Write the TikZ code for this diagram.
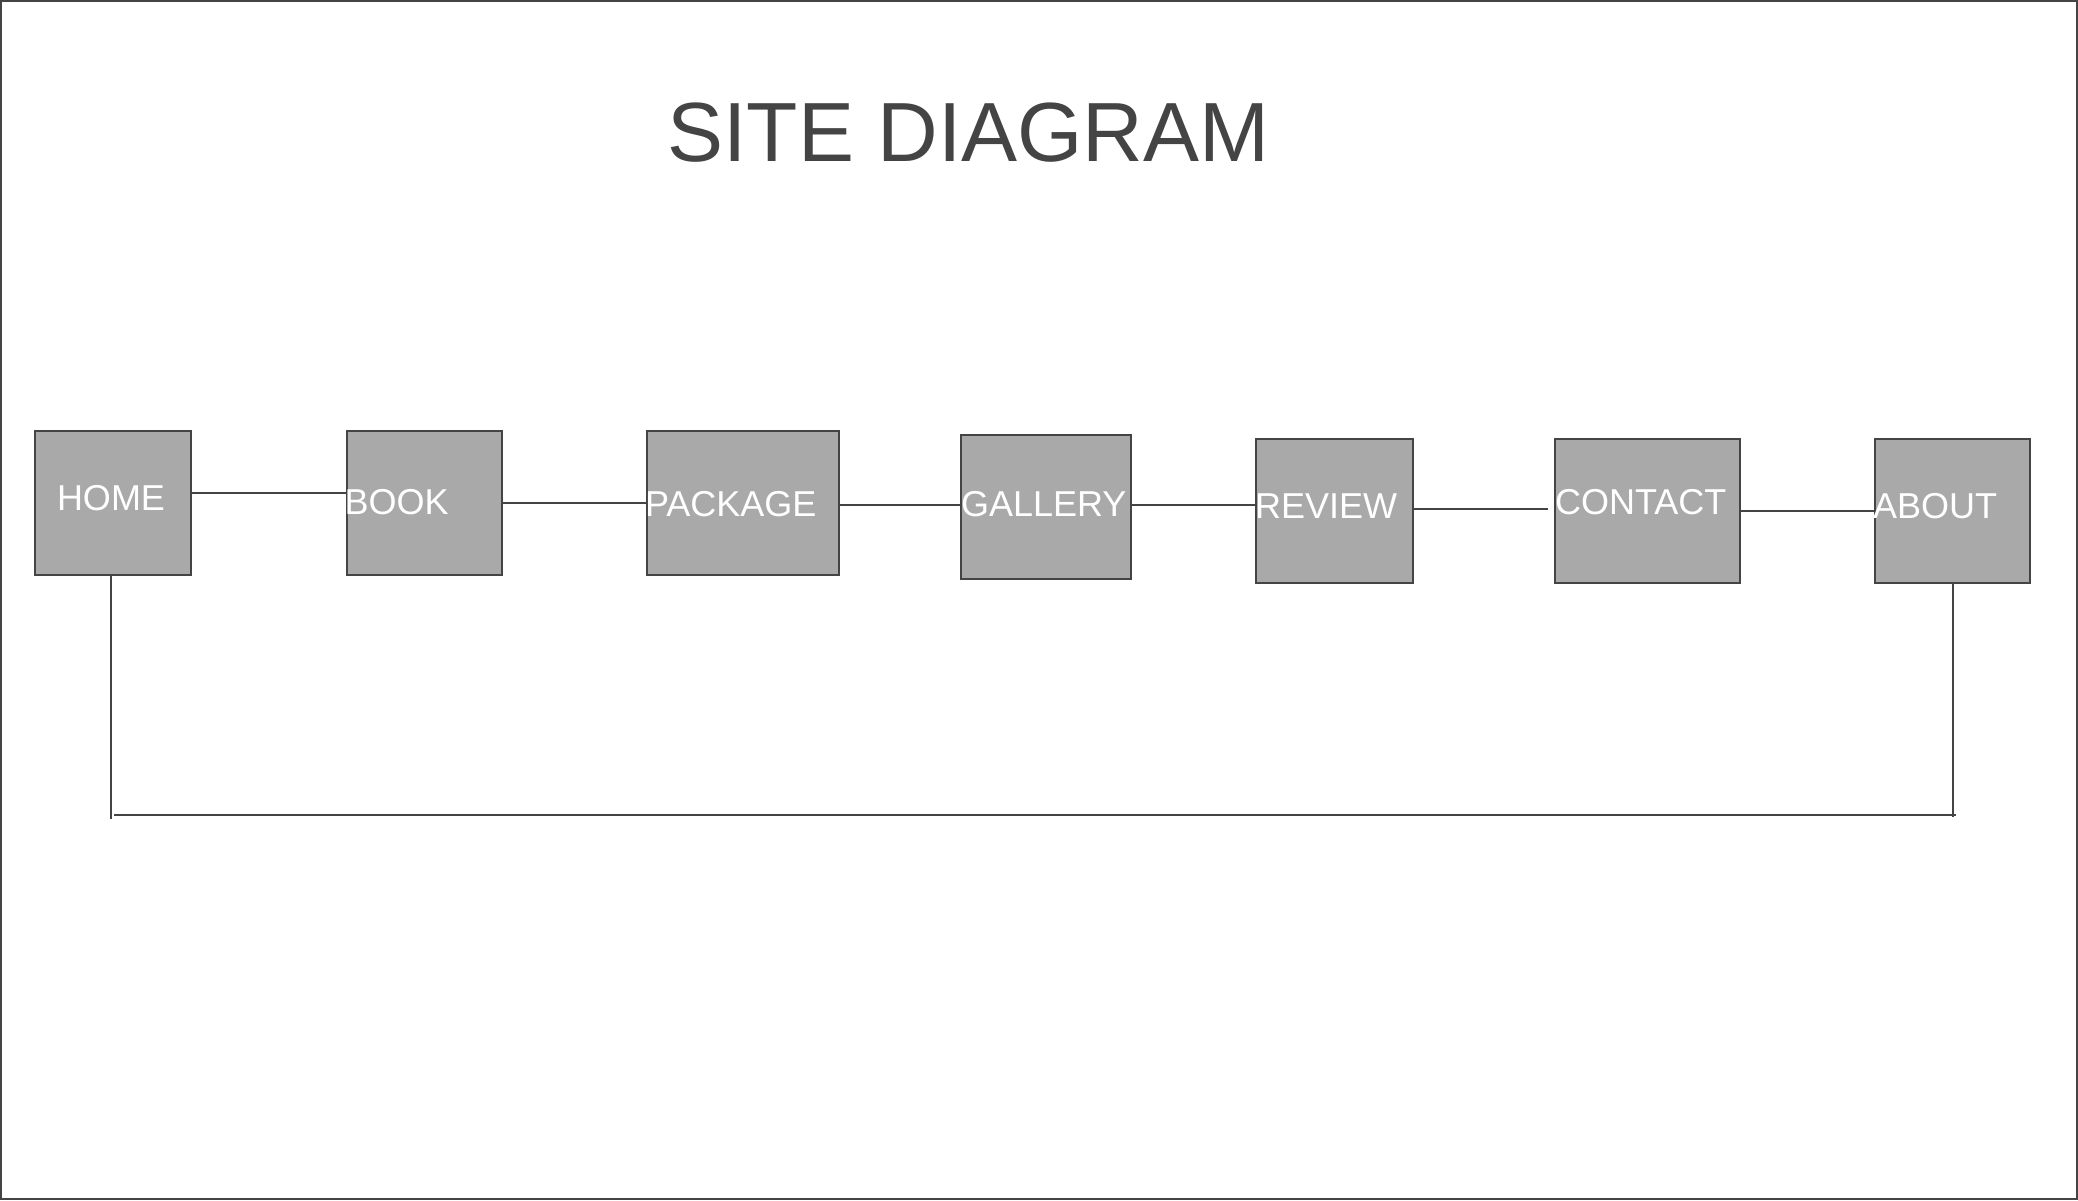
\documentclass[tikz,border=0pt]{standalone}
\usepackage{fontspec}
\setmainfont{Liberation Sans}
\usetikzlibrary{calc}
\definecolor{ink}{HTML}{444444}
\definecolor{boxfill}{HTML}{A9A9A9}
\begin{document}
\begin{tikzpicture}[x=0.5pt,y=-0.5pt,
  pagebox/.style={draw=ink, fill=boxfill, line width=1pt, inner sep=0pt, outer sep=0pt, anchor=north west},
  pagelabel/.style={text=white, inner sep=0pt, outer sep=0pt, anchor=base west, font=\fontsize{18pt}{20pt}\selectfont},
  link/.style={draw=ink, line width=1pt},
  trunk/.style={draw=ink, line width=0.85pt}]
  % canvas and frame
  \useasboundingbox (0,0) rectangle (2078,1200);
  \draw[ink, line width=1pt] (1,1) rectangle (2077,1199);

  % title
  \node[text=ink, inner sep=0pt, anchor=base west, font=\fontsize{42pt}{46pt}\selectfont] (title) at (667,161.7) {SITE DIAGRAM};

  % page boxes
  \node[pagebox, minimum width=78pt,   minimum height=72pt] (home)    at (35,431)   {};
  \node[pagebox, minimum width=77.5pt, minimum height=72pt] (book)    at (347,431)  {};
  \node[pagebox, minimum width=96pt,   minimum height=72pt] (package) at (647,431)  {};
  \node[pagebox, minimum width=85pt,   minimum height=72pt] (gallery) at (961,435)  {};
  \node[pagebox, minimum width=78.5pt, minimum height=72pt] (review)  at (1256,439) {};
  \node[pagebox, minimum width=92.5pt, minimum height=72pt] (contact) at (1555,439) {};
  \node[pagebox, minimum width=77.5pt, minimum height=72pt] (about)   at (1875,439) {};

  % labels
  \node[pagelabel] (homelbl)    at (57,510)    {HOME};
  \node[pagelabel] (booklbl)    at (344.6,514) {BOOK};
  \node[pagelabel] (packagelbl) at (645,516)   {PACKAGE};
  \node[pagelabel] (gallerylbl) at (961,516)   {GALLERY};
  \node[pagelabel] (reviewlbl)  at (1255,518)  {REVIEW};
  \node[pagelabel] (contactlbl) at (1555,514)  {CONTACT};
  \node[pagelabel] (aboutlbl)   at (1873,518)  {ABOUT};

  % links between neighbouring pages
  \draw[link] (home.east |- 0,492.7)    -- (book.west |- 0,492.7);
  \draw[link] (book.east |- 0,503)      -- (package.west |- 0,503);
  \draw[link] (package.east |- 0,504.7) -- (gallery.west |- 0,504.7);
  \draw[link] (gallery.east |- 0,504.7) -- (review.west |- 0,504.7);
  \coordinate (revend) at (1548,508.7);
  \draw[link] (review.east |- revend)   -- (revend);
  \draw[link] (contact.east |- 0,510.7) -- (about.west |- 0,510.7);

  % return path from about back to home
  \coordinate (homefoot)  at (111,819);
  \coordinate (aboutfoot) at (1953,817);
  \coordinate (railstart) at (114,815);
  \coordinate (railend)   at (1956,815);
  \draw[trunk] (home.south -| homefoot) -- (homefoot);
  \draw[trunk] (about.south -| aboutfoot) -- (aboutfoot);
  \draw[link] (railstart) -- (railend);
\end{tikzpicture}
\end{document}
